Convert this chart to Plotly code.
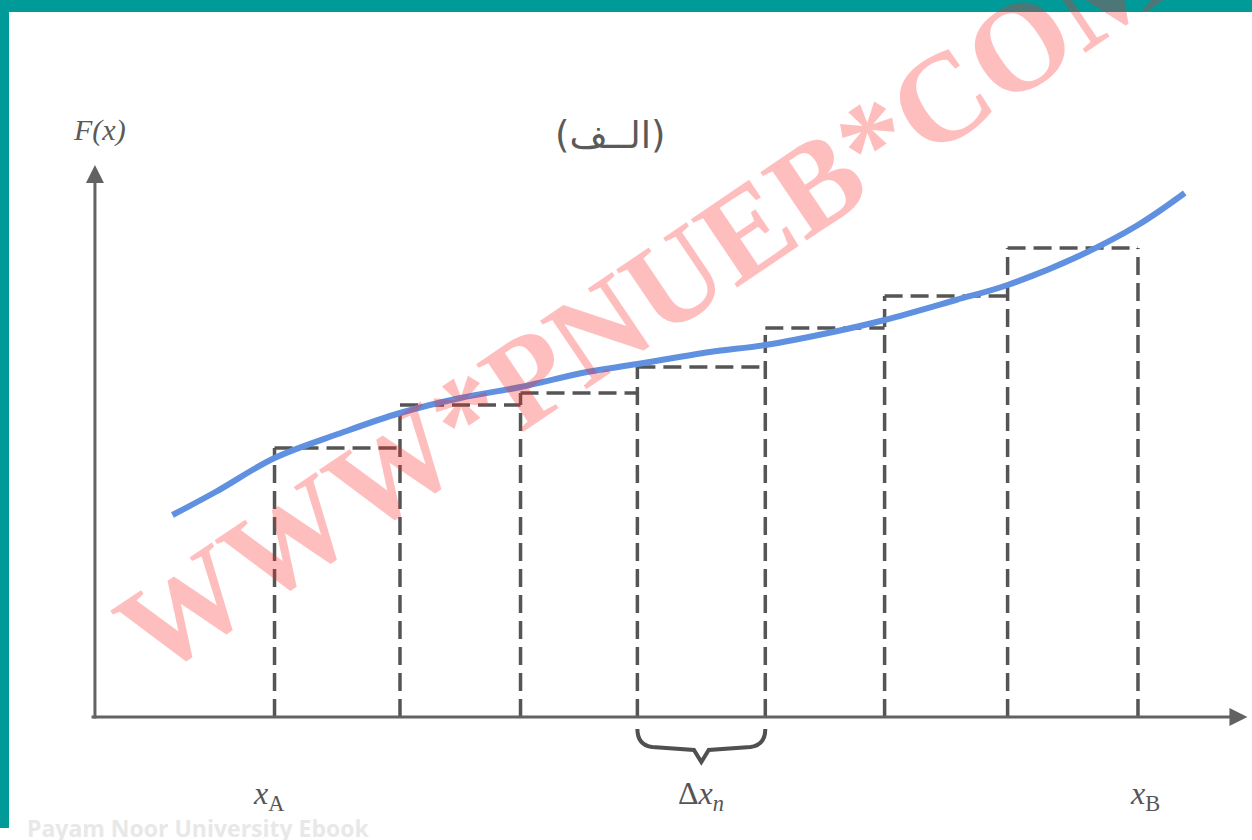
import plotly.graph_objects as go

# edges of the strips, from x_A to x_B
edges = [1.46, 2.48, 3.46, 4.41, 5.45, 6.42, 7.42, 8.48]
# height of the dashed top of each strip
tops = [2.69, 3.12, 3.24, 3.50, 3.89, 4.21, 4.69]

# the F(x) curve
curve_x = [0.63, 0.98, 1.46, 2.0, 2.48, 2.97, 3.46, 4.0, 4.41, 5.0, 5.45,
           6.0, 6.42, 7.0, 7.42, 8.0, 8.48, 8.86]
curve_y = [2.02, 2.25, 2.59, 2.84, 3.04, 3.19, 3.30, 3.45, 3.53, 3.65, 3.72,
           3.85, 3.97, 4.17, 4.32, 4.61, 4.92, 5.24]

x_labels = ["<i>x</i><sub>A</sub>", "Δ<i>x</i><sub><i>n</i></sub>", "<i>x</i><sub>B</sub>"]
title_text = "(الــف)"
y_label = "<i>F(x)</i>"
watermark = "WWW*PNUEB*COM"
footer = "Payam Noor University Ebook"

AX = "#626262"
TEAL = "#009a99"

fig = go.Figure()

# dashed strips: verticals reach the taller neighbour, then the tops
vx, vy = [], []
for i, e in enumerate(edges):
    left = tops[i - 1] if i > 0 else 0
    right = tops[i] if i < len(tops) else 0
    vx += [e, e, None]
    vy += [0, max(left, right), None]
for i, t in enumerate(tops):
    vx += [edges[i], edges[i + 1], None]
    vy += [t, t, None]
fig.add_trace(go.Scatter(x=vx, y=vy, mode="lines",
                         line=dict(color="#555555", width=3.5, dash="18px,8px"),
                         hoverinfo="skip", showlegend=False))

fig.add_trace(go.Scatter(x=curve_x, y=curve_y, mode="lines",
                         line=dict(color="rgb(96,144,224)", width=6, shape="spline"),
                         showlegend=False))

# axes with arrow heads
fig.add_annotation(x=9.37, y=0, ax=-0.04, ay=0, xref="x", yref="y",
                   axref="x", ayref="y", showarrow=True, arrowhead=2,
                   arrowsize=1.2, arrowwidth=3, arrowcolor=AX, text="")
fig.add_annotation(x=0, y=5.52, ax=0, ay=-0.03, xref="x", yref="y",
                   axref="x", ayref="y", showarrow=True, arrowhead=2,
                   arrowsize=1.2, arrowwidth=3, arrowcolor=AX, text="")

# brace under the n-th strip
a, b = edges[3], edges[4]
m = (a + b) / 2
brace = (f"M {a} -0.12 Q {a} -0.28 {a + 0.12} -0.30 L {m - 0.06} -0.33 "
         f"L {m} -0.45 L {m + 0.06} -0.33 L {b - 0.12} -0.30 Q {b} -0.28 {b} -0.12")
fig.add_shape(type="path", path=brace, xref="x", yref="y",
              line=dict(color="#505050", width=4))

label_x = [edges[0] - 0.05, m, edges[-1] + 0.06]
for lx, txt in zip(label_x, x_labels):
    fig.add_annotation(x=lx, y=-0.78, xref="x", yref="y", text=txt, showarrow=False,
                       font=dict(family="Liberation Serif", size=32, color="#555555"))

fig.add_annotation(x=0.04, y=5.87, xref="x", yref="y", text=y_label, showarrow=False,
                   font=dict(family="Liberation Serif", size=30, color="#5a5a5a"))
fig.add_annotation(x=0.487, y=1 - 135 / 840, xref="paper", yref="paper", text=title_text,
                   showarrow=False, xanchor="center", yanchor="middle",
                   font=dict(family="DejaVu Sans", size=37, color="#5a5a5a"))

fig.add_annotation(x=25 / 1252, y=12 / 840, xref="paper", yref="paper",
                   text="<b>" + footer + "</b>", showarrow=False,
                   xanchor="left", yanchor="middle",
                   font=dict(family="Open Sans", size=23, color="#e8e8e8"))

# watermark across the plot
fig.add_annotation(x=0.515, y=0.645, xref="paper", yref="paper", text="<b>" + watermark + "</b>",
                   showarrow=False, textangle=-34, xanchor="center", yanchor="middle",
                   font=dict(family="Liberation Serif", size=126, color="rgba(255,40,40,0.30)"))

# teal frame
fig.add_shape(type="rect", xref="paper", yref="paper", x0=0, x1=1, y0=1 - 12 / 840, y1=1,
              fillcolor=TEAL, line_width=0, layer="above")
fig.add_shape(type="rect", xref="paper", yref="paper", x0=0, x1=9 / 1252, y0=12 / 840, y1=1,
              fillcolor=TEAL, line_width=0, layer="above")

fig.update_layout(width=1252, height=840, margin=dict(l=0, r=0, t=0, b=0),
                  paper_bgcolor="white", plot_bgcolor="white")
fig.update_xaxes(range=[-0.772, 9.407], visible=False)
fig.update_yaxes(range=[-1.23, 7.17], visible=False)

fig.write_html("out.html", config={"displayModeBar": False},
               post_script="document.body.style.margin='0';")
